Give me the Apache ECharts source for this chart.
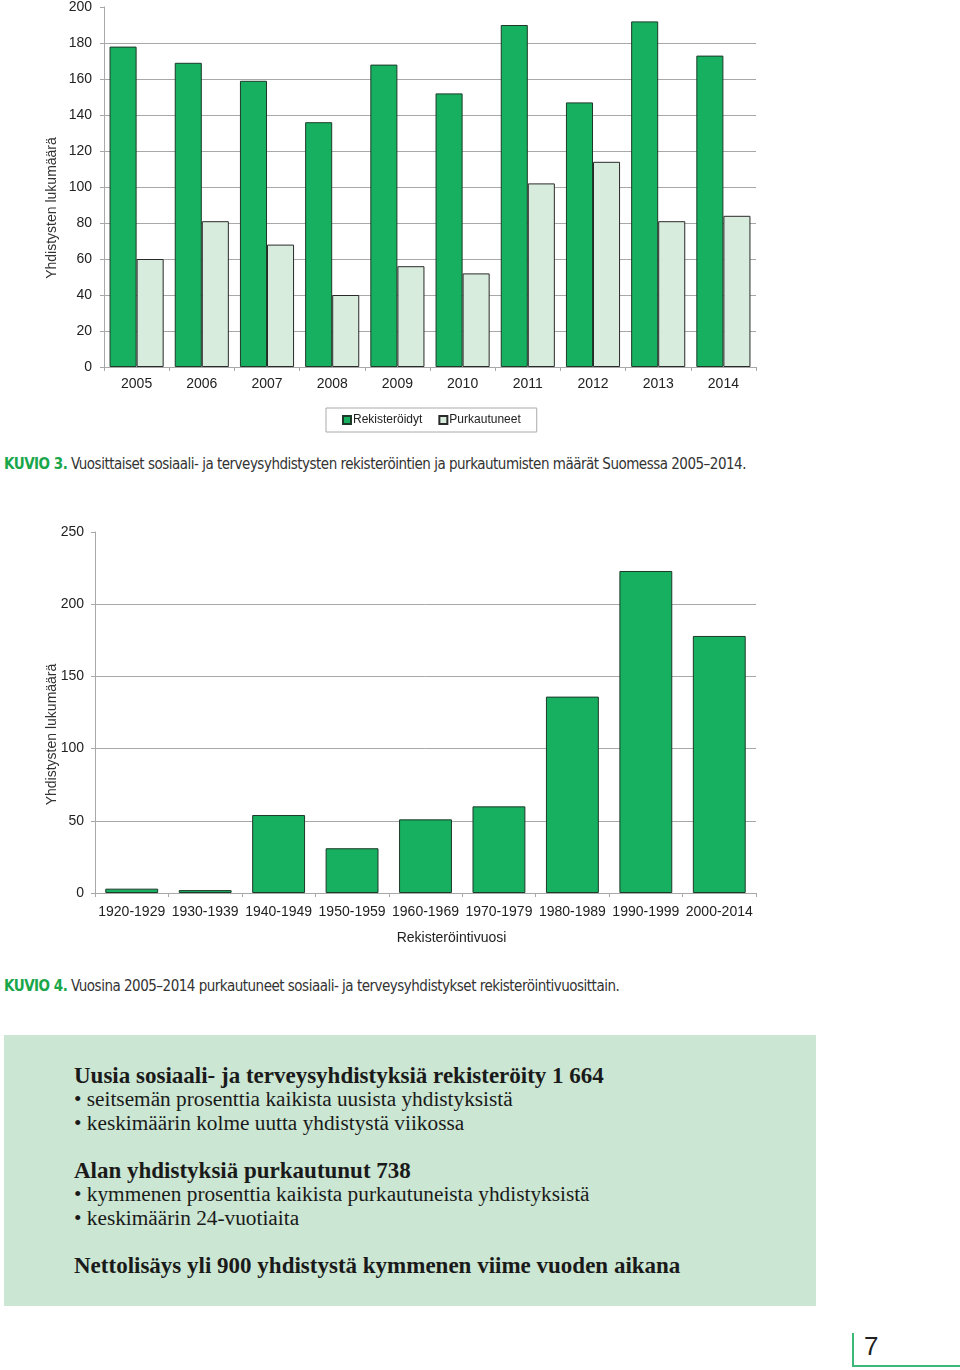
<!DOCTYPE html>
<html>
<head>
<meta charset="utf-8">
<script src="https://cdn.jsdelivr.net/npm/echarts@6/dist/echarts.min.js"></script>
<style>
  html, body { margin: 0; padding: 0; background: #fff; }
  #page { position: relative; width: 960px; height: 1370px; overflow: hidden; }
  #c1 { position: absolute; left: 0; top: 0; width: 960px; height: 445px; }
  #c2 { position: absolute; left: 0; top: 500px; width: 960px; height: 460px; }
  .cap { position: absolute; left: 4px; font-family: "DejaVu Sans Condensed", "DejaVu Sans", sans-serif; font-size: 15px; color: #333; white-space: nowrap; letter-spacing: -0.5px; }
  .cap b { color: #1aa64a; font-weight: bold; }
  #box { position: absolute; left: 4px; top: 1035px; width: 812px; height: 271px; background: #cbe6d2; }
  #box div { position: absolute; left: 70px; font-family: "Liberation Serif", "DejaVu Serif", serif; color: #1a1a1a; white-space: nowrap; }
  #box .h { font-weight: bold; font-size: 23px; }
  #box .l { font-size: 21.3px; }
  #pn { position: absolute; left: 852px; top: 1333px; width: 108px; height: 32px; border-left: 2px solid #3cb878; border-bottom: 2px solid #3cb878; }
  #pn span { position: absolute; left: 10px; top: -2px; font-family: "Liberation Sans", Arial, sans-serif; font-size: 26px; color: #222; }
</style>
</head>
<body>
<div id="page">
  <div id="c1"></div>
  <div class="cap" style="top:455px;"><b>KUVIO 3.</b> Vuosittaiset sosiaali- ja terveysyhdistysten rekisteröintien ja purkautumisten määrät Suomessa 2005–2014.</div>
  <div id="c2"></div>
  <div class="cap" style="top:977px;"><b>KUVIO 4.</b> Vuosina 2005–2014 purkautuneet sosiaali- ja terveysyhdistykset rekisteröintivuosittain.</div>
  <div id="box">
    <div class="h" style="top:28px;">Uusia sosiaali- ja terveysyhdistyksiä rekisteröity 1 664</div>
    <div class="l" style="top:52px;">• seitsemän prosenttia kaikista uusista yhdistyksistä</div>
    <div class="l" style="top:76px;">• keskimäärin kolme uutta yhdistystä viikossa</div>
    <div class="h" style="top:123px;">Alan yhdistyksiä purkautunut 738</div>
    <div class="l" style="top:147px;">• kymmenen prosenttia kaikista purkautuneista yhdistyksistä</div>
    <div class="l" style="top:171px;">• keskimäärin 24-vuotiaita</div>
    <div class="h" style="top:218px;">Nettolisäys yli 900 yhdistystä kymmenen viime vuoden aikana</div>
  </div>
  <div id="pn"><span>7</span></div>
</div>
<script>
// ---- Data: chart 1 (KUVIO 3) ----
const years = ['2005','2006','2007','2008','2009','2010','2011','2012','2013','2014'];
const registered = [178, 169, 159, 136, 168, 152, 190, 147, 192, 173];
const dissolved  = [60, 81, 68, 40, 56, 52, 102, 114, 81, 84];
const seriesNames1 = ['Rekisteröidyt', 'Purkautuneet'];

// ---- Data: chart 2 (KUVIO 4) ----
const decades = ['1920-1929','1930-1939','1940-1949','1950-1959','1960-1969','1970-1979','1980-1989','1990-1999','2000-2014'];
const dissolvedByDecade = [3, 2, 54, 31, 51, 60, 136, 223, 178];

const yTitle = 'Yhdistysten lukumäärä';
const xTitle2 = 'Rekisteröintivuosi';

const FONT = '"Liberation Sans", Arial, sans-serif';
const GREEN = '#16b060';
const LIGHT = '#d7ecdc';
const axisGray = '#a8a8a8';

const c1 = echarts.init(document.getElementById('c1'));
c1.setOption({
  animation: false,
  textStyle: { fontFamily: FONT },
  grid: { left: 104, top: 7, width: 652, height: 360 },
  legend: {
    data: seriesNames1,
    left: 326, top: 408, width: 210,
    itemWidth: 8, itemHeight: 8, itemGap: 16,
    padding: [6, 16, 6, 16],
    borderColor: '#aaa', borderWidth: 1,
    icon: 'rect',
    textStyle: { fontSize: 12, color: '#222', fontFamily: FONT, padding: [0,0,0,-3] }
  },
  xAxis: {
    type: 'category', data: years,
    axisLine: { lineStyle: { color: axisGray } },
    axisTick: { show: true, length: 4, lineStyle: { color: axisGray } },
    axisLabel: { fontSize: 14, color: '#222', margin: 10, fontFamily: FONT }
  },
  yAxis: {
    type: 'value', min: 0, max: 200, interval: 20,
    name: yTitle, nameLocation: 'middle', nameGap: 45, nameMoveOverlap: false,
    nameTextStyle: { fontSize: 14, color: '#333', fontFamily: FONT, padding: [0, 42, 0, 0] },
    axisLine: { show: true, lineStyle: { color: axisGray } },
    axisTick: { show: true, length: 4, lineStyle: { color: axisGray } },
    axisLabel: { fontSize: 14, color: '#222', margin: 12, fontFamily: FONT },
    splitLine: { show: true, showMaxLine: false, lineStyle: { color: axisGray } }
  },
  series: [
    { name: seriesNames1[0], type: 'bar', data: registered, barGap: '0%', barCategoryGap: '17%',
      itemStyle: { color: GREEN, borderColor: '#1d3a29', borderWidth: 1 } },
    { name: seriesNames1[1], type: 'bar', data: dissolved,
      itemStyle: { color: LIGHT, borderColor: '#2a2a2a', borderWidth: 1 } }
  ]
});

const c2 = echarts.init(document.getElementById('c2'));
c2.setOption({
  animation: false,
  textStyle: { fontFamily: FONT },
  grid: { left: 95, top: 32, width: 661, height: 361 },
  xAxis: {
    type: 'category', data: decades,
    name: xTitle2, nameLocation: 'middle', nameGap: 38,
    nameTextStyle: { fontSize: 14, color: '#222', fontFamily: FONT, padding: [0, 0, 0, 52] },
    axisLine: { lineStyle: { color: axisGray } },
    axisTick: { show: true, length: 4, lineStyle: { color: axisGray } },
    axisLabel: { fontSize: 14, color: '#222', margin: 12, interval: 0, fontFamily: FONT }
  },
  yAxis: {
    type: 'value', min: 0, max: 250, interval: 50,
    name: yTitle, nameLocation: 'middle', nameGap: 36, nameMoveOverlap: false,
    nameTextStyle: { fontSize: 14, color: '#333', fontFamily: FONT, padding: [0, 44, 0, 0] },
    axisLine: { show: true, lineStyle: { color: axisGray } },
    axisTick: { show: true, length: 4, lineStyle: { color: axisGray } },
    axisLabel: { fontSize: 14, color: '#222', margin: 11, fontFamily: FONT },
    splitLine: { show: true, showMaxLine: false, lineStyle: { color: axisGray } }
  },
  series: [
    { name: xTitle2, type: 'bar', data: dissolvedByDecade, barCategoryGap: '28%',
      itemStyle: { color: GREEN, borderColor: '#1d3a29', borderWidth: 1 } }
  ]
});
</script>
</body>
</html>
